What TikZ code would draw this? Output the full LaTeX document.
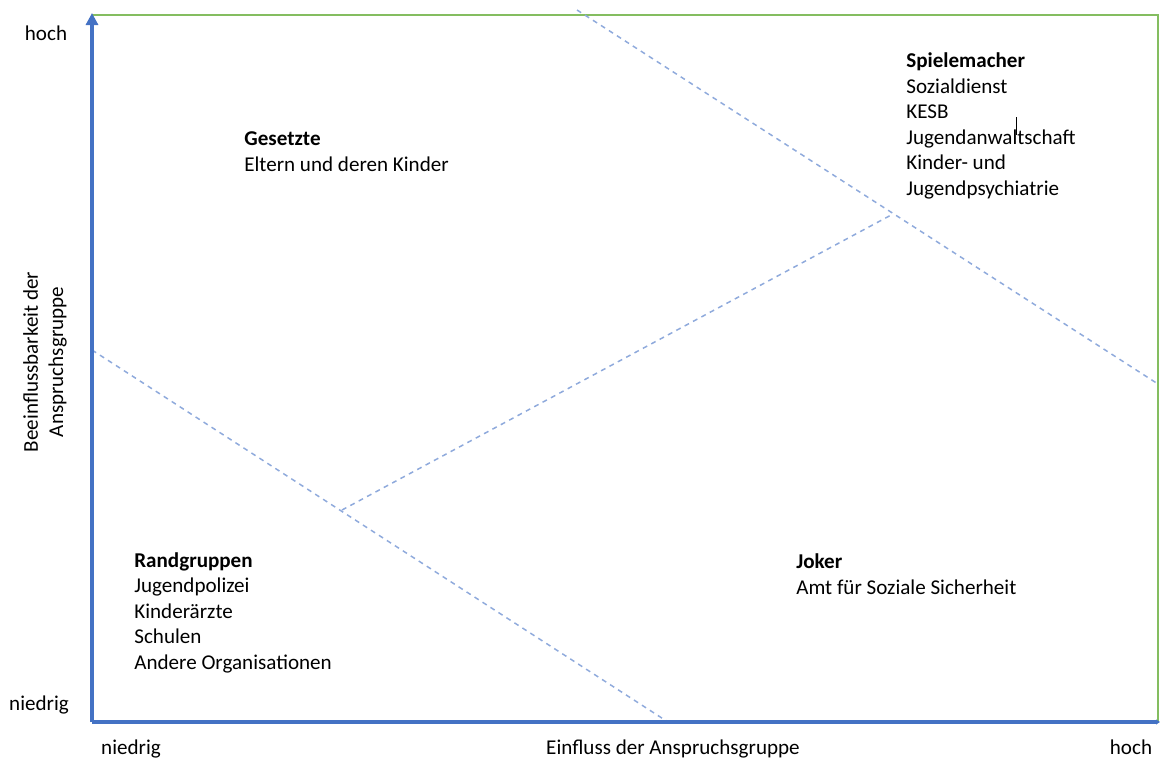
\documentclass[tikz,border=0pt]{standalone}
\usepackage{fontspec}
\setmainfont{Carlito}
\usepackage{xcolor}
\usepackage{tikz}
\usetikzlibrary{arrows.meta}
\definecolor{axisblue}{HTML}{4472C4}
\definecolor{framegreen}{HTML}{84BD60}
\definecolor{splitblue}{HTML}{8FAADC}
\tikzset{
    txt/.style = {inner sep=0pt, font=\fontsize{12}{14.5}\selectfont},
    group_node/.style = {txt, align=left, anchor=base west},
    tick_node/.style = {txt, anchor=base},
    axis_line/.style = {draw=axisblue, line width=2.1pt},
    frame_line/.style = {draw=framegreen, line width=1.1pt},
    split_line/.style = {draw=splitblue, line width=0.85pt, dash pattern=on 2.8pt off 2.6pt}
}

\begin{document}
\begin{tikzpicture}[x=0.02cm, y=-0.02cm]
    \useasboundingbox (0,0) rectangle (1160,758);

    % corners of the matrix
    \coordinate (origin) at (92,722);
    \coordinate (ytop) at (92,13);
    \coordinate (xend) at (1160,722);
    \coordinate (topleft) at (92,15);
    \coordinate (topright) at (1158,15);
    \coordinate (botright) at (1158,722);

    % dividing lines
    \coordinate (d1a) at (577,10);
    \coordinate (d1b) at (1158,384);
    \coordinate (d2a) at (92,350);
    \coordinate (d2b) at (668,722);
    \coordinate (d3a) at (342,510);
    \coordinate (d3b) at (893,214);

    \draw[frame_line] (topleft) -- (topright) -- (botright);
    \draw[split_line] (d1a) -- (d1b);
    \draw[split_line] (d2a) -- (d2b);
    \draw[split_line] (d3a) -- (d3b);
    \draw[axis_line, -{Triangle[length=0.24cm, width=0.24cm]}] (origin) -- (ytop);
    \draw[axis_line, -{Triangle[length=0.08cm, width=0.1cm]}] (origin) -- (xend);

    % axis texts
    \node[tick_node] (yhigh) at (46,40) {hoch};
    \node[tick_node] (ylow) at (39,710) {niedrig};
    \node[tick_node] (xlow) at (131,754) {niedrig};
    \node[tick_node] (xlabel) at (673,754) {Einfluss der Anspruchsgruppe};
    \node[tick_node] (xhigh) at (1131,754) {hoch};
    \node[txt, align=center, rotate=90] (ylabel) at (45,362)
        {Beeinflussbarkeit der\\Anspruchsgruppe};

    % the four groups (anchored at the baseline of their last line)
    \node[group_node] (gesetzte) at (244,171)
        {\textbf{Gesetzte}\\Eltern und deren Kinder};
    \node[group_node] (spielemacher) at (906,195)
        {\textbf{Spielemacher}\\Sozialdienst\\KESB\\Jugendanwaltschaft\\Kinder- und\\Jugendpsychiatrie};
    \node[group_node] (randgruppen) at (134,669)
        {\textbf{Randgruppen}\\Jugendpolizei\\Kinderärzte\\Schulen\\Andere Organisationen};
    \node[group_node] (joker) at (796,594)
        {\textbf{Joker}\\Amt für Soziale Sicherheit};

    \draw[line width=0.4pt] (1016,117) -- (1016,135);
\end{tikzpicture}
\end{document}
